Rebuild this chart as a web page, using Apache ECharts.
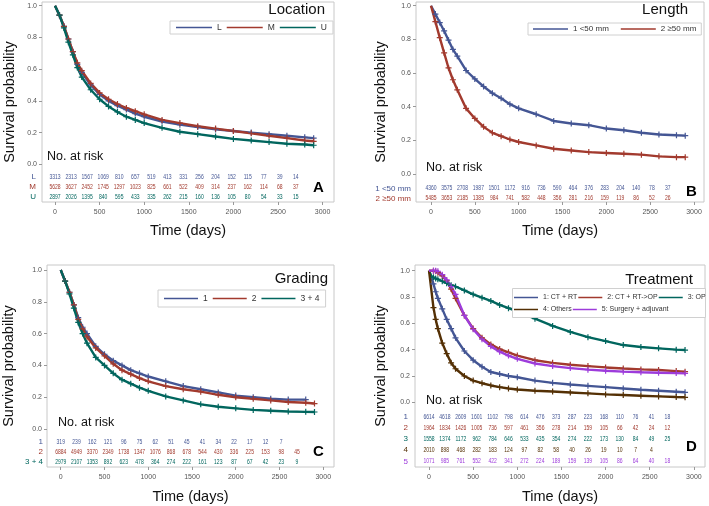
<!DOCTYPE html>
<html>
<head>
<meta charset="utf-8">
<script src="https://cdn.jsdelivr.net/npm/echarts@6/dist/echarts.min.js"></script>
<style>
html, body { margin: 0; padding: 0; background: #fff; }
#chart { width: 709px; height: 506px; }
</style>
</head>
<body>
<div id="chart"></div>
<script>
// survival curves (days -> probability)
const TIME = [0, 50, 100, 150, 200, 250, 300, 400, 500, 600, 700, 800, 900, 1000, 1200, 1400, 1600, 1800, 2000, 2200, 2400, 2600, 2800, 2900];
const TIME_D = [0, 25, 50, 75, 100, 150, 200, 250, 300, 400, 500, 600, 700, 800, 900, 1000, 1200, 1400, 1600, 1800, 2000, 2200, 2400, 2600, 2800, 2900];

const LOC_L = [1, .94, .87, .79, .71, .63, .58, .50, .44, .40, .37, .345, .32, .30, .27, .25, .235, .22, .21, .20, .19, .18, .17, .165];
const LOC_M = [1, .94, .87, .79, .71, .64, .59, .51, .45, .41, .38, .355, .335, .315, .28, .26, .24, .225, .21, .195, .18, .165, .15, .145];
const LOC_U = [1, .94, .86, .77, .69, .61, .55, .47, .41, .365, .33, .30, .28, .26, .23, .205, .19, .175, .16, .15, .14, .13, .125, .12];

const LEN_1 = [1, .95, .90, .85, .795, .74, .70, .615, .565, .52, .48, .45, .415, .39, .355, .315, .30, .29, .27, .26, .245, .235, .23, .228];
const LEN_2 = [1, .905, .81, .72, .63, .56, .50, .39, .33, .28, .245, .225, .205, .19, .17, .15, .14, .13, .125, .12, .115, .105, .10, .10];

const GRA_1 = [1, .93, .86, .78, .70, .64, .60, .52, .47, .43, .40, .37, .35, .33, .30, .27, .25, .23, .21, .20, .19, .185, .185];
const GRA_2 = [1, .93, .86, .78, .69, .63, .58, .51, .46, .41, .37, .345, .32, .30, .27, .25, .235, .215, .20, .19, .18, .17, .165, .16];
const GRA_34 = [1, .93, .85, .76, .67, .60, .54, .45, .40, .35, .31, .285, .26, .24, .205, .18, .155, .14, .13, .12, .115, .11, .108, .107];

const TRT_1 = [1, .95, .90, .84, .79, .71, .63, .56, .49, .39, .32, .27, .23, .215, .20, .19, .165, .148, .135, .125, .115, .105, .095, .088, .08, .076];
const TRT_2 = [1, 1, 1, .995, .985, .96, .925, .86, .79, .66, .56, .49, .44, .405, .38, .355, .32, .30, .285, .275, .265, .257, .25, .245, .237, .233];
const TRT_3 = [1, .96, .95, .94, .935, .92, .905, .89, .88, .85, .82, .795, .77, .74, .715, .69, .635, .58, .535, .495, .465, .435, .42, .41, .40, .397];
const TRT_4 = [1, .86, .72, .63, .56, .45, .37, .30, .255, .20, .165, .145, .128, .115, .105, .097, .088, .082, .075, .068, .06, .055, .05, .045, .04, .038];
const TRT_5 = [1, 1, 1, 1, .995, .97, .93, .88, .82, .66, .555, .48, .425, .385, .355, .33, .295, .275, .26, .248, .24, .233, .228, .225, .222, .22];

// numbers at risk
const RISK_TIMES = [0, 180, 360, 540, 720, 900, 1080, 1260, 1440, 1620, 1800, 1980, 2160, 2340, 2520, 2700];
const RISK_L = [3313, 2313, 1567, 1069, 810, 657, 519, 413, 331, 256, 204, 152, 115, 77, 39, 14];
const RISK_M = [5628, 3627, 2452, 1745, 1297, 1023, 825, 661, 522, 409, 314, 237, 162, 114, 68, 37];
const RISK_U = [2897, 2026, 1395, 840, 595, 433, 335, 262, 215, 160, 136, 105, 80, 54, 33, 15];
const RISK_LEN1 = [4360, 3575, 2708, 1987, 1501, 1172, 916, 736, 590, 464, 376, 283, 204, 140, 78, 37];
const RISK_LEN2 = [5485, 3653, 2185, 1385, 984, 741, 582, 448, 356, 281, 216, 159, 119, 86, 52, 26];
const RISK_G1 = [319, 239, 162, 121, 96, 75, 62, 51, 45, 41, 34, 22, 17, 12, 7];
const RISK_G2 = [6884, 4949, 3370, 2349, 1738, 1347, 1076, 868, 678, 544, 430, 336, 225, 153, 98, 45];
const RISK_G34 = [2979, 2107, 1353, 892, 623, 478, 364, 274, 222, 161, 123, 87, 67, 42, 23, 9];
const RISK_T1 = [6614, 4618, 2609, 1601, 1102, 798, 614, 476, 373, 287, 223, 168, 110, 76, 41, 18];
const RISK_T2 = [1964, 1834, 1426, 1005, 736, 597, 461, 356, 278, 214, 159, 105, 66, 42, 24, 12];
const RISK_T3 = [1558, 1374, 1172, 962, 784, 646, 533, 435, 354, 274, 222, 173, 130, 84, 49, 25];
const RISK_T4 = [2010, 898, 468, 282, 183, 124, 97, 82, 58, 40, 26, 19, 10, 7, 4];
const RISK_T5 = [1071, 985, 761, 552, 422, 341, 272, 224, 189, 159, 139, 105, 86, 64, 40, 18];

const X_TICKS = [0, 500, 1000, 1500, 2000, 2500, 3000];
const Y_TICKS = [0, 0.2, 0.4, 0.6, 0.8, 1.0];

const BLUE = '#445694', RED = '#A23A2E', GREEN = '#01665E', BROWN = '#543005', PURPLE = '#9D3CDB';
const SANS = "'Liberation Sans', Arial, sans-serif";
const PLUS = 'path://M4,0H6V4H10V6H6V10H4V6H0V4H4Z';

const panels = [
    {
        grid: { left: 42, top: 2, width: 292, height: 200 }, xr: [-146, 3128], yr: [-0.2377, 1.0233],
        table: { top: 172, height: 30 }, rowMargin: 6, yGap: 25, xGap: 21,
        names: ['L', 'M', 'U'], rows: ['L', 'M', 'U'], colors: [BLUE, RED, GREEN],
        times: TIME, curves: [LOC_L, LOC_M, LOC_U], risk: [RISK_L, RISK_M, RISK_U],
        title: 'Location', titlePos: { right: 384, top: 2 },
        letter: 'A', letterPos: { left: 313, top: 180 }, noRisk: { left: 47, top: 150 },
        legends: [{ data: ['L', 'M', 'U'], left: 170, top: 21, itemWidth: 36, itemGap: 5, padding: [2, 6, 2, 6], box: true, fontSize: 8.5 }]
    },
    {
        grid: { left: 416, top: 2, width: 288, height: 200 }, xr: [-171, 3114], yr: [-0.1664, 1.022],
        table: { top: 183.5, height: 20 }, rowMargin: 5, yGap: 28, xGap: 21,
        names: ['1 <50 mm', '2 \u226550 mm'], rows: ['1 <50 mm', '2 \u226550 mm'], colors: [BLUE, RED],
        times: TIME, curves: [LEN_1, LEN_2], risk: [RISK_LEN1, RISK_LEN2],
        title: 'Length', titlePos: { right: 21, top: 2 },
        letter: 'B', letterPos: { left: 686, top: 184 }, noRisk: { left: 426, top: 161 },
        legends: [{ data: ['1 <50 mm', '2 \u226550 mm'], left: 528, top: 23, itemWidth: 35, itemGap: 12, padding: [2, 5, 2, 5], box: true, fontSize: 8 }]
    },
    {
        grid: { left: 47, top: 265, width: 287, height: 202 }, xr: [-157, 3123], yr: [-0.239, 1.0314],
        table: { top: 436.7, height: 30 }, rowMargin: 4, yGap: 31, xGap: 22,
        names: ['1', '2', '3 + 4'], rows: ['1', '2', '3 + 4'], colors: [BLUE, RED, GREEN],
        times: TIME, curves: [GRA_1, GRA_2, GRA_34], risk: [RISK_G1, RISK_G2, RISK_G34],
        title: 'Grading', titlePos: { right: 381, top: 271 },
        letter: 'C', letterPos: { left: 313, top: 444 }, noRisk: { left: 58, top: 416 },
        legends: [{ data: ['1', '2', '3 + 4'], left: 158, top: 290, itemWidth: 34, itemGap: 5, padding: [4, 6, 4, 6], box: true, fontSize: 8.5 }]
    },
    {
        grid: { left: 415, top: 265, width: 290, height: 202 }, xr: [-159, 3126], yr: [-0.4916, 1.0433],
        table: { top: 411, height: 56 }, rowMargin: 7, yGap: 27, xGap: 22,
        names: ['1: CT + RT', '2: CT + RT->OP', '3: OP', '4: Others', '5: Surgery + adjuvant'],
        rows: ['1', '2', '3', '4', '5'], colors: [BLUE, RED, GREEN, BROWN, PURPLE],
        times: TIME_D, curves: [TRT_1, TRT_2, TRT_3, TRT_4, TRT_5], risk: [RISK_T1, RISK_T2, RISK_T3, RISK_T4, RISK_T5],
        title: 'Treatment', titlePos: { right: 16, top: 272 },
        letter: 'D', letterPos: { left: 686, top: 439 }, noRisk: { left: 426, top: 394 },
        legends: [
            { data: ['1: CT + RT', '2: CT + RT->OP', '3: OP'], left: 514, top: 294, itemWidth: 24, itemGap: 1, padding: 0, box: false, fontSize: 7, width: 300 },
            { data: ['4: Others', '5: Surgery + adjuvant'], left: 514, top: 306, itemWidth: 24, itemGap: 1, padding: 0, box: false, fontSize: 7, width: 300 }
        ],
        boxRect: { left: 512, top: 288, width: 193, height: 29 }
    }
];

const grids = [], xAxes = [], yAxes = [], series = [], titles = [], legends = [], graphics = [];

panels.forEach(function (p, k) {
    const gi = grids.length;
    grids.push(Object.assign({ show: true, borderColor: '#c8c8c8', borderWidth: 1, backgroundColor: '#fff', outerBoundsMode: 'none', containLabel: false }, p.grid));
    grids.push({ left: p.grid.left, width: p.grid.width, top: p.table.top, height: p.table.height, outerBoundsMode: 'none', containLabel: false });

    xAxes.push({
        gridIndex: gi, type: 'value', min: p.xr[0], max: p.xr[1],
        name: 'Time (days)', nameLocation: 'middle', nameGap: p.xGap, nameMoveOverlap: false,
        nameTextStyle: { fontSize: 14.5, color: '#111', fontFamily: SANS },
        axisLine: { show: false, onZero: false },
        axisTick: { show: true, customValues: X_TICKS, length: 3, lineStyle: { color: '#999' } },
        axisLabel: { customValues: X_TICKS, formatter: function (v) { return String(v); }, fontSize: 7, color: '#555', margin: 7, fontFamily: SANS },
        splitLine: { show: false }
    });
    xAxes.push({ gridIndex: gi + 1, type: 'value', min: p.xr[0], max: p.xr[1], show: false });

    yAxes.push({
        gridIndex: gi, type: 'value', min: p.yr[0], max: p.yr[1],
        name: 'Survival probability', nameLocation: 'middle', nameGap: p.yGap, nameMoveOverlap: false,
        nameTextStyle: { fontSize: 14.5, color: '#111', fontFamily: SANS },
        axisLine: { show: false, onZero: false },
        axisTick: { show: true, customValues: Y_TICKS, length: 3, lineStyle: { color: '#999' } },
        axisLabel: { customValues: Y_TICKS, formatter: function (v) { return v.toFixed(1); }, fontSize: 7, color: '#555', margin: 5, fontFamily: SANS },
        splitLine: { show: false }
    });
    yAxes.push({
        gridIndex: gi + 1, type: 'category', inverse: true, data: p.rows,
        axisLine: { show: false, onZero: false }, axisTick: { show: false }, splitLine: { show: false },
        axisLabel: {
            interval: 0, margin: p.rowMargin, fontSize: 8, fontFamily: SANS,
            color: function (v, i) { return p.colors[i]; }
        }
    });

    // curves
    p.curves.forEach(function (vals, i) {
        series.push({
            name: p.names[i], type: 'line', xAxisIndex: gi, yAxisIndex: gi,
            data: vals.map(function (v, j) { return [p.times[j], v]; }),
            showSymbol: true, symbolSize: 6,
            symbol: function (val) { return val[0] < 40 ? 'none' : PLUS; },
            lineStyle: { width: 2.4, color: p.colors[i] },
            itemStyle: { color: p.colors[i] },
            emphasis: { disabled: true },
            z: 2
        });
    });

    // numbers at risk, drawn condensed at their time positions
    p.risk.forEach(function (counts, i) {
        const color = p.colors[i];
        series.push({
            name: 'risk-' + k + '-' + i, type: 'custom', xAxisIndex: gi + 1, yAxisIndex: gi + 1,
            data: counts.map(function (n, j) { return [RISK_TIMES[j], i, n]; }),
            renderItem: function (params, api) {
                const pt = api.coord([api.value(0), api.value(1)]);
                return {
                    type: 'text', x: pt[0], y: pt[1], scaleX: 0.72,
                    style: {
                        text: String(api.value(2)), fill: color, fontSize: 7, fontFamily: SANS,
                        align: 'center', verticalAlign: 'middle'
                    }
                };
            },
            silent: true
        });
    });

    titles.push(Object.assign({ text: p.title, padding: 0, textStyle: { fontSize: 15, fontWeight: 'normal', color: '#111', fontFamily: SANS } }, p.titlePos));
    titles.push(Object.assign({ text: p.letter, padding: 0, textStyle: { fontSize: 15, fontWeight: 'bold', color: '#000', fontFamily: SANS } }, p.letterPos));
    titles.push(Object.assign({ text: 'No. at risk', padding: 0, textStyle: { fontSize: 12.5, fontWeight: 'normal', color: '#111', fontFamily: SANS } }, p.noRisk));

    p.legends.forEach(function (l) {
        legends.push({
            data: l.data, left: l.left, top: l.top, padding: l.padding, width: l.width || 'auto',
            icon: 'rect', itemWidth: l.itemWidth, itemHeight: 1.5, itemGap: l.itemGap,
            selectedMode: false,
            backgroundColor: l.box ? '#fff' : 'transparent',
            borderColor: l.box ? '#d0d0d0' : 'transparent', borderWidth: l.box ? 1 : 0,
            textStyle: { fontSize: l.fontSize, color: '#333', fontFamily: SANS }
        });
    });
    if (p.boxRect) {
        graphics.push({
            type: 'rect', left: p.boxRect.left, top: p.boxRect.top, z: 3,
            shape: { width: p.boxRect.width, height: p.boxRect.height },
            style: { fill: '#fff', stroke: '#d0d0d0', lineWidth: 1 }
        });
    }
});

const chart = echarts.init(document.getElementById('chart'));
chart.setOption({
    animation: false,
    backgroundColor: '#fff',
    title: titles,
    legend: legends,
    grid: grids,
    xAxis: xAxes,
    yAxis: yAxes,
    graphic: graphics,
    series: series
});
</script>
</body>
</html>
